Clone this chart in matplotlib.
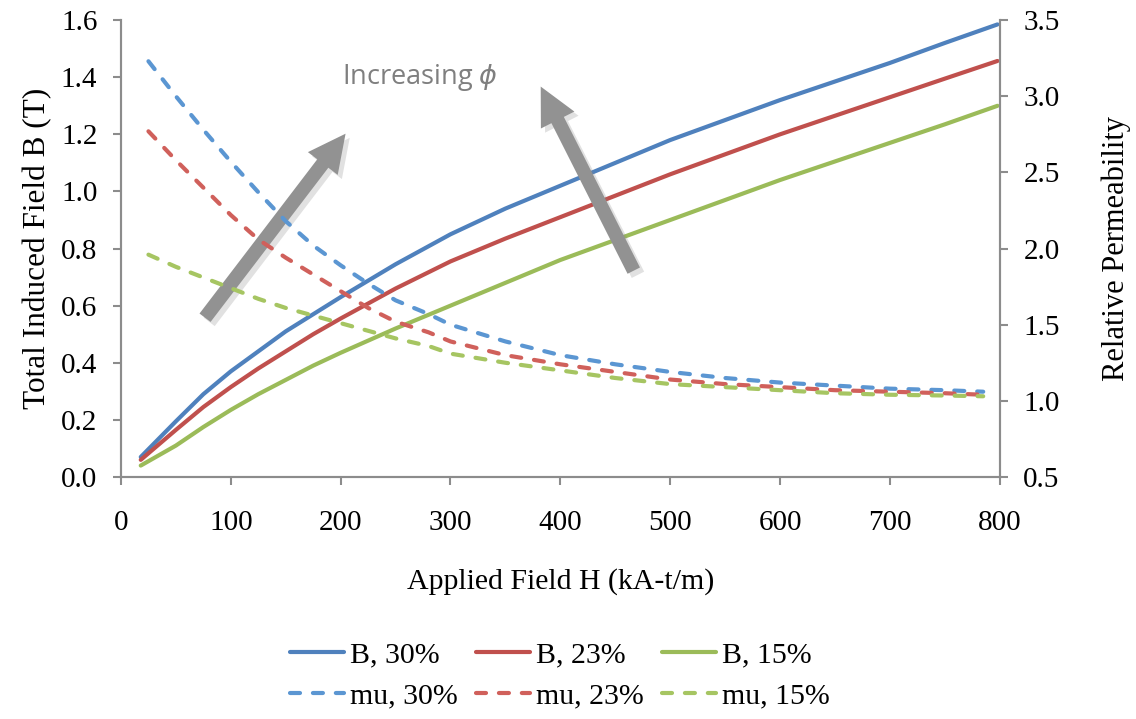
import numpy as np
import matplotlib
matplotlib.use("Agg")
import matplotlib.pyplot as plt
from matplotlib.patches import FancyArrowPatch
import matplotlib.patheffects as pe

# Total induced field B (T) vs applied field H (kA-t/m)
h_b = [18, 50, 75, 100, 125, 150, 175, 200, 250, 300, 350, 400, 450, 500,
       550, 600, 650, 700, 750, 798]
b_30 = [0.07, 0.195, 0.29, 0.37, 0.44, 0.51, 0.57, 0.63, 0.745, 0.85, 0.94, 1.02,
        1.10, 1.18, 1.25, 1.32, 1.385, 1.45, 1.52, 1.585]
b_23 = [0.06, 0.165, 0.245, 0.315, 0.38, 0.44, 0.50, 0.555, 0.66, 0.755, 0.835, 0.91,
        0.985, 1.06, 1.13, 1.20, 1.265, 1.33, 1.395, 1.457]
b_15 = [0.04, 0.11, 0.175, 0.235, 0.29, 0.34, 0.39, 0.435, 0.52, 0.60, 0.68, 0.76,
        0.83, 0.90, 0.97, 1.04, 1.105, 1.17, 1.235, 1.30]

# Relative permeability vs applied field
h_mu = [25, 50, 75, 100, 125, 150, 175, 200, 225, 250, 280, 300, 350, 400,
        450, 500, 550, 600, 650, 700, 750, 785]
mu_30 = [3.23, 3.00, 2.78, 2.57, 2.37, 2.18, 2.02, 1.89, 1.77, 1.66, 1.57, 1.50,
         1.39, 1.30, 1.24, 1.19, 1.15, 1.12, 1.10, 1.08, 1.07, 1.06]
mu_23 = [2.77, 2.58, 2.40, 2.22, 2.06, 1.94, 1.83, 1.72, 1.61, 1.52, 1.45, 1.39,
         1.30, 1.24, 1.19, 1.14, 1.11, 1.09, 1.07, 1.06, 1.05, 1.04]
mu_15 = [1.96, 1.88, 1.81, 1.74, 1.67, 1.61, 1.56, 1.51, 1.46, 1.41, 1.36, 1.31,
         1.25, 1.20, 1.15, 1.11, 1.09, 1.07, 1.05, 1.04, 1.035, 1.03]

labels = ["30%", "23%", "15%"]
colors_b = ["#4F81BD", "#C0504D", "#9BBB59"]
colors_mu = ["#5B96D2", "#D0605B", "#A6C562"]

plt.rcParams['font.family'] = ['Liberation Serif', 'DejaVu Serif']
fs = 21
grey = "#8C8C8C"

fig = plt.figure(figsize=(11.36, 7.19), dpi=100)
ax = fig.add_axes([0.1065, 0.3366, 0.7735, 0.6354])
ax2 = ax.twinx()

handles = []
for yb, ym, lab, cb, cm in zip([b_30, b_23, b_15], [mu_30, mu_23, mu_15],
                               labels, colors_b, colors_mu):
    l1, = ax.plot(h_b, yb, color=cb, lw=3.0, solid_capstyle='round',
                  solid_joinstyle='round', label="B, " + lab)
    l2, = ax2.plot(h_mu, ym, color=cm, lw=3.0, ls=(0, (2.4, 3.1)),
                   dash_capstyle='round', dash_joinstyle='round', label="mu, " + lab)
    handles += [l1, l2]

ax.set_xlim(0, 800)
ax.set_ylim(0, 1.6)
ax2.set_ylim(0.5, 3.5)
ax.set_xticks(np.arange(0, 801, 100))
ax.set_yticks(np.arange(0, 1.61, 0.2))
ax2.set_yticks(np.arange(0.5, 3.51, 0.5))
ax.yaxis.set_major_formatter(matplotlib.ticker.FormatStrFormatter('%.1f'))
ax2.yaxis.set_major_formatter(matplotlib.ticker.FormatStrFormatter('%.1f'))

for a in (ax, ax2):
    a.spines['top'].set_visible(False)
    for s in ('left', 'right', 'bottom'):
        a.spines[s].set_color(grey)
        a.spines[s].set_linewidth(1.5)
    a.tick_params(axis='both', colors=grey, labelcolor='black', labelsize=fs,
                  length=6, width=1.5, direction='out')
    a.tick_params(axis='y', pad=11)
ax.tick_params(axis='x', pad=18)

ax.set_xlabel("Applied Field H (kA-t/m)", fontsize=21.5, labelpad=23)
ax.set_ylabel("Total Induced Field B (T)", fontsize=22.5, labelpad=6)
ax2.set_ylabel("Relative Permeability", fontsize=22, labelpad=30)

# arrows showing direction of increasing phi
shadow = [pe.SimplePatchShadow(offset=(3, -3), shadow_rgbFace='#888888', alpha=0.25),
          pe.Normal()]
for tail, tip in [((75, 0.55), (206, 1.21)), ((468, 0.714), (381, 1.376))]:
    arr = FancyArrowPatch(tail, tip, arrowstyle="simple,head_length=27,head_width=27,tail_width=10",
                          mutation_scale=1, color="#929292", lw=0, zorder=5)
    arr.set_path_effects(shadow)
    ax.add_patch(arr)
ax.text(201, 1.40, r"Increasing $\phi$", fontsize=19.5, color="#7F7F7F",
        family=['Open Sans', 'DejaVu Sans'], va='center', ha='left', zorder=6)

fig.legend(handles=handles, loc='center', bbox_to_anchor=(0.493, 0.0605),
           ncol=3, frameon=False, fontsize=21.5, handlelength=1.8,
           handletextpad=0.22, columnspacing=0.6, labelspacing=0.5)

fig.savefig("out.png", dpi=100)
